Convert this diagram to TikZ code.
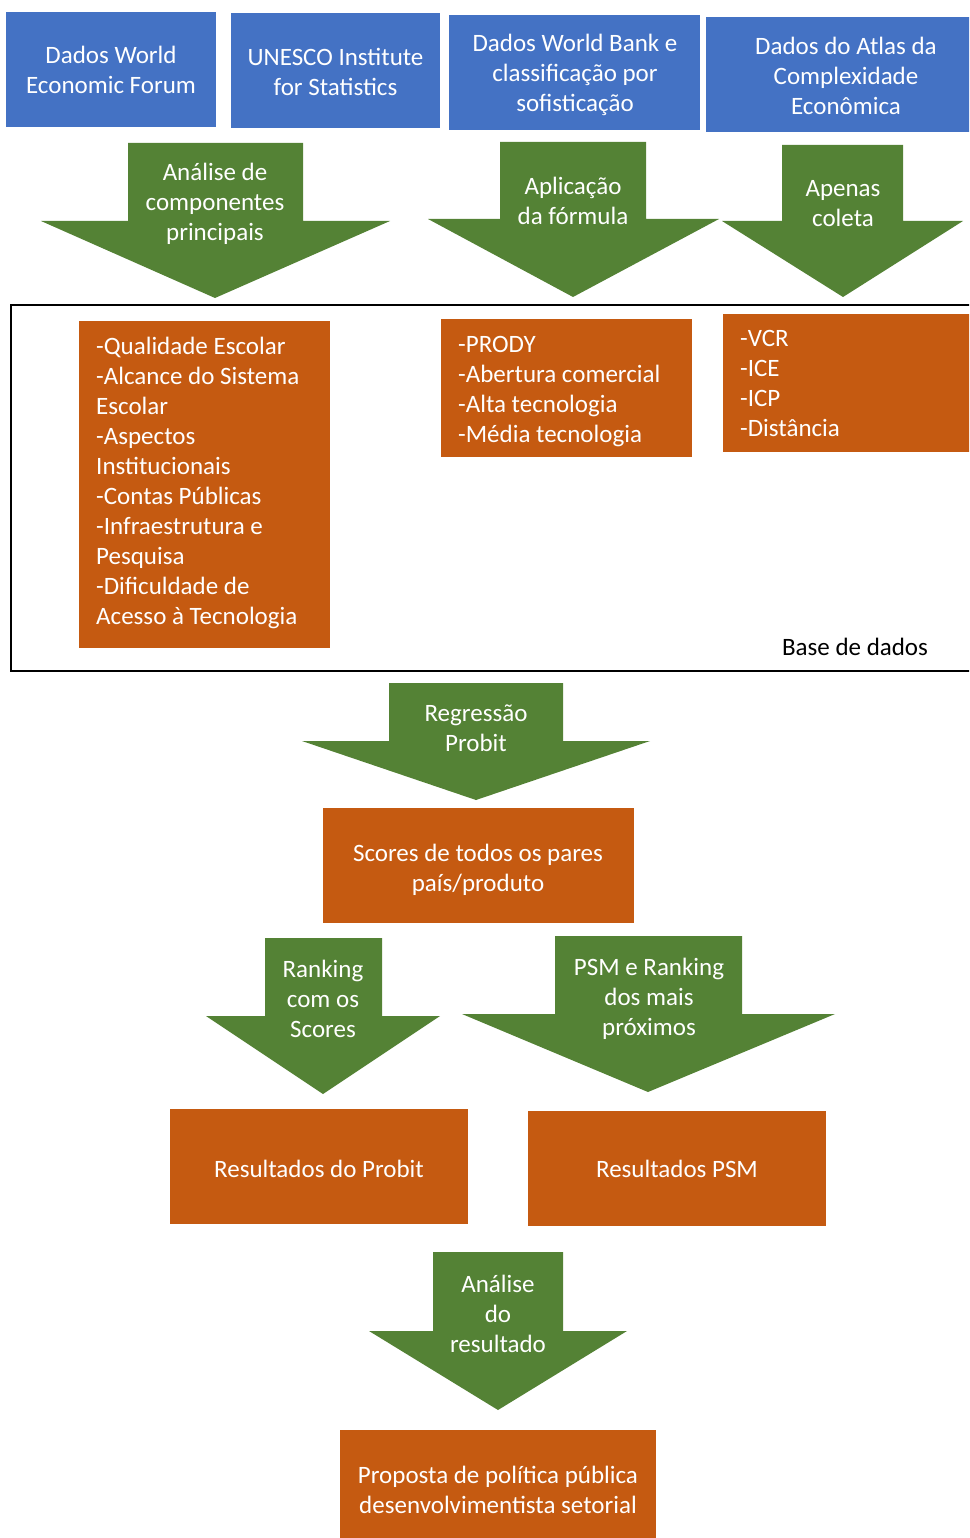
\documentclass[tikz,border=0pt]{standalone}
\usepackage{fontspec}
\setmainfont{Carlito}
\definecolor{boxblue}{HTML}{4472C4}
\definecolor{arrowgreen}{HTML}{548235}
\definecolor{boxorange}{HTML}{C55A11}
\tikzset{
  txt/.style={text=white, font=\fontsize{25}{30}\selectfont, align=center, inner sep=0pt},
  ltxt/.style={text=white, font=\fontsize{25}{30}\selectfont, align=left, inner sep=0pt, anchor=west},
  btxt/.style={text=black, font=\fontsize{25}{30}\selectfont, inner sep=0pt},
  framebox/.style={draw=black, line width=2pt},
}
% block arrow: shaft left, shaft right, shaft top, shoulder y, head left, head right, tip x, tip y
\newcommand{\blockarrow}[8]{%
  \fill[arrowgreen] (#1,#3) -- (#2,#3) -- (#2,#4) -- (#6,#4) -- (#7,#8) -- (#5,#4) -- (#1,#4) -- cycle;}
\begin{document}
\begin{tikzpicture}[x=1pt,y=-1pt]
\useasboundingbox (0,0) rectangle (969,1538);
\clip (0,0) rectangle (969,1538);
% top source boxes
\fill[boxblue] (6,12) rectangle (216,127);
\node[txt] (wef) at (111,70) {Dados World\\Economic Forum};
\fill[boxblue] (231,13) rectangle (440,128);
\node[txt] (unesco) at (335.5,71.5) {UNESCO Institute\\for Statistics};
\fill[boxblue] (449,15) rectangle (700,130);
\node[txt] (wb) at (575,75) {Dados World Bank e\\classificação por\\sofisticação};
\fill[boxblue] (706,17) rectangle (990,132);
\node[txt] (atlas) at (846,75.5) {Dados do Atlas da\\Complexidade\\Econômica};
% top arrows
\blockarrow{128}{303}{143}{221}{41}{390}{215}{298}
\node[txt] (pca) at (215,204) {Análise de\\componentes\\principais};
\blockarrow{500}{646}{142}{219}{428}{719}{573}{297}
\node[txt] (form) at (573,201) {Aplicação\\da fórmula};
\blockarrow{782}{903}{145}{221}{722}{963}{843}{297}
\node[txt] (coleta) at (843,203.5) {Apenas\\coleta};
% database frame
\draw[framebox] (11,305) rectangle (995,671);
\fill[boxorange] (79,321) rectangle (330,648);
\node[ltxt] (varsA) at (96,483) {-Qualidade Escolar\\-Alcance do Sistema\\Escolar\\-Aspectos\\Institucionais\\-Contas Públicas\\-Infraestrutura e\\Pesquisa\\-Dificuldade de\\Acesso à Tecnologia};
\fill[boxorange] (441,319) rectangle (692,457);
\node[ltxt] (varsB) at (458,392) {-PRODY\\-Abertura comercial\\-Alta tecnologia\\-Média tecnologia};
\fill[boxorange] (723,314) rectangle (990,452);
\node[ltxt] (varsC) at (740,383.5) {-VCR\\-ICE\\-ICP\\-Distância};
\node[btxt] (base) at (855,647) {Base de dados};
% middle
\blockarrow{389}{563}{683}{741}{302}{650}{476}{800}
\node[txt] (probit) at (476,728.5) {Regressão\\Probit};
\fill[boxorange] (323,808) rectangle (634,923);
\node[txt] (scores) at (478,870) {Scores de todos os pares\\país/produto};
\blockarrow{265}{382}{938}{1016}{206}{440}{323}{1094}
\node[txt] (rank) at (323,999) {Ranking\\com os\\Scores};
\blockarrow{555}{742}{936}{1014}{462}{835}{648}{1092}
\node[txt] (psm) at (649,999) {PSM e Ranking\\dos mais\\próximos};
\fill[boxorange] (170,1109) rectangle (468,1224);
\node[txt] (resprobit) at (319,1169) {Resultados do Probit};
\fill[boxorange] (528,1111) rectangle (826,1226);
\node[txt] (respsm) at (677,1169) {Resultados PSM};
\blockarrow{433}{563}{1252}{1331}{369}{627}{498}{1410}
\node[txt] (analise) at (498,1314) {Análise\\do\\resultado};
\fill[boxorange] (340,1430) rectangle (656,1545);
\node[txt] (proposta) at (498,1489.5) {Proposta de política pública\\desenvolvimentista setorial};
\end{tikzpicture}
\end{document}
